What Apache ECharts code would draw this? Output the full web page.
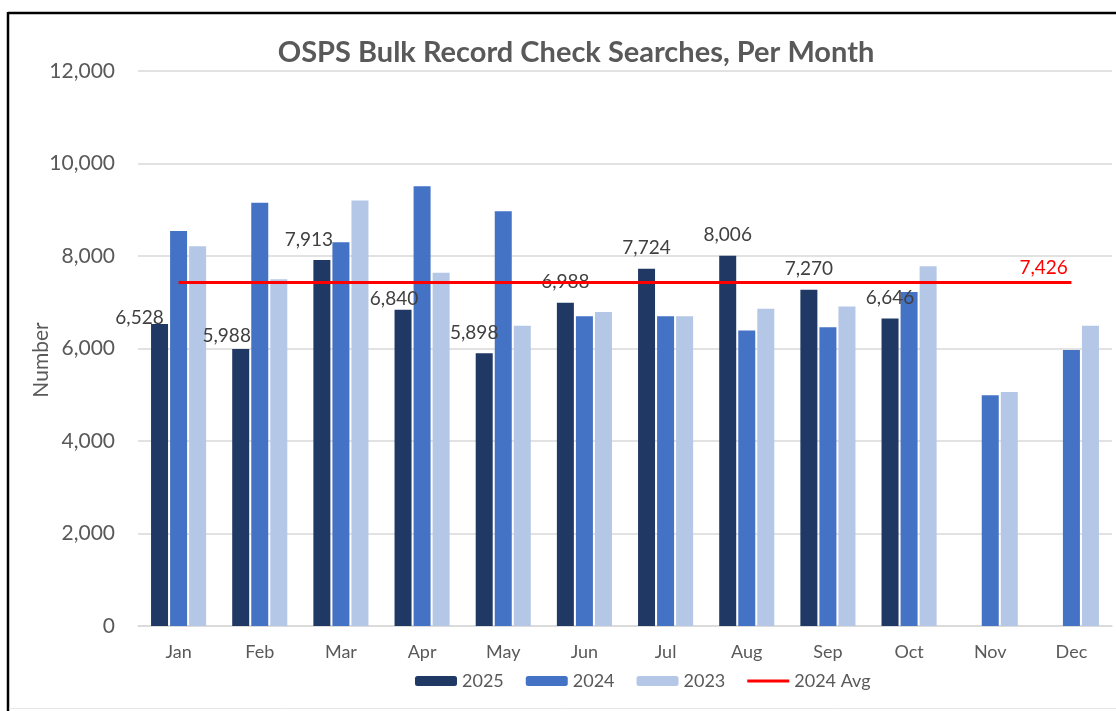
<!DOCTYPE html>
<html>
<head>
<meta charset="utf-8">
<script src="https://cdn.jsdelivr.net/npm/echarts@6/dist/echarts.min.js"></script>
<style>
html,body{margin:0;padding:0;background:#fff;}
#c{width:1116px;height:711px;}
</style>
</head>
<body>
<div id="c"></div>
<script>
const months = ['Jan','Feb','Mar','Apr','May','Jun','Jul','Aug','Sep','Oct','Nov','Dec'];
const y2025 = [6528, 5988, 7913, 6840, 5898, 6988, 7724, 8006, 7270, 6646, null, null];
const y2024 = [8540, 9150, 8300, 9510, 8970, 6700, 6700, 6390, 6460, 7220, 4990, 5970];
const y2023 = [8210, 7500, 9200, 7640, 6490, 6790, 6700, 6860, 6910, 7780, 5060, 6490];
const avg2024 = [7426, 7426, 7426, 7426, 7426, 7426, 7426, 7426, 7426, 7426, 7426, 7426];
const yTicks = [0, 2000, 4000, 6000, 8000, 10000, 12000];

const FONT = 'Lato';
const fmt = v => Number(v).toLocaleString('en-US');

// manual label nudges for the 2025 labels (style only)
const labelNudge = {0: [-20, 14], 1: [-14, 7], 2: [-13, 0], 3: [-9, 10], 4: [-10, 0]};

const chart = echarts.init(document.getElementById('c'), null, {renderer: 'canvas'});
chart.setOption({
  animation: false,
  backgroundColor: '#fff',
  textStyle: {fontFamily: FONT},
  title: {
    text: 'OSPS Bulk Record Check Searches, Per Month',
    left: 571, top: 33, textAlign: 'center',
    textStyle: {fontFamily: FONT, fontWeight: 'bold', fontSize: 29, color: '#595959'}
  },
  grid: {left: 138, right: 4, top: 71, bottom: 85, containLabel: false},
  legend: {
    left: 410, top: 667,
    itemWidth: 42, itemHeight: 10, itemGap: 22,
    textStyle: {fontFamily: FONT, fontSize: 18, color: '#595959'},
    data: [
      '2025', '2024', '2023',
      {name: '2024 Avg', icon: 'path://M0,0 M42,10 M0,3.6 L42,3.6 L42,6.4 L0,6.4 Z', itemStyle: {color: '#FF0000'}}
    ]
  },
  xAxis: {
    type: 'category',
    data: months,
    axisLine: {show: true, lineStyle: {color: '#D9D9D9', width: 1.5}},
    axisTick: {show: false},
    axisLabel: {fontFamily: FONT, fontSize: 18, color: '#595959', margin: 17}
  },
  yAxis: {
    type: 'value',
    min: yTicks[0], max: yTicks[yTicks.length - 1], interval: 2000,
    name: 'Number',
    nameLocation: 'middle',
    nameGap: 86,
    nameMoveOverlap: false,
    nameTextStyle: {fontFamily: FONT, fontSize: 21, color: '#595959', padding: [0, 23, 0, 0]},
    axisLine: {show: false},
    axisTick: {show: false},
    axisLabel: {fontFamily: FONT, fontSize: 21, color: '#595959', margin: 23, formatter: v => fmt(v)},
    splitLine: {lineStyle: {color: '#D9D9D9', width: 1.5}}
  },
  series: [
    {
      name: '2025', type: 'bar', barWidth: 17, barGap: '12%',
      itemStyle: {color: '#203864'},
      data: y2025.map((v, i) => {
        const item = {value: v};
        if (labelNudge[i]) item.label = {offset: labelNudge[i]};
        return item;
      }),
      label: {
        show: true, position: 'top', distance: 11,
        fontFamily: FONT, fontSize: 19, color: '#404040',
        formatter: p => (p.value == null ? '' : fmt(p.value))
      }
    },
    {
      name: '2024', type: 'bar', barWidth: 17, barGap: '12%',
      itemStyle: {color: '#4472C4'},
      data: y2024
    },
    {
      name: '2023', type: 'bar', barWidth: 17, barGap: '12%',
      itemStyle: {color: '#B4C7E7'},
      data: y2023
    },
    {
      name: '2024 Avg', type: 'line',
      symbol: 'none', showSymbol: false,
      lineStyle: {color: '#FF0000', width: 3},
      itemStyle: {color: '#FF0000'},
      z: 5,
      data: avg2024,
      endLabel: {
        show: true, distance: 0, offset: [-52, -15],
        fontFamily: FONT, fontSize: 19, color: '#FF0000',
        formatter: p => fmt(p.value)
      }
    }
  ],
  graphic: [
    {type: 'line', shape: {x1: 8, y1: 13, x2: 1116, y2: 13}, style: {stroke: '#000', lineWidth: 2.5}, silent: true},
    {type: 'line', shape: {x1: 8, y1: 12, x2: 8, y2: 711}, style: {stroke: '#000', lineWidth: 2.5}, silent: true},
    {type: 'line', shape: {x1: 9, y1: 708.5, x2: 1116, y2: 708.5}, style: {stroke: '#E6E6E6', lineWidth: 1}, silent: true}
  ]
});
</script>
</body>
</html>
